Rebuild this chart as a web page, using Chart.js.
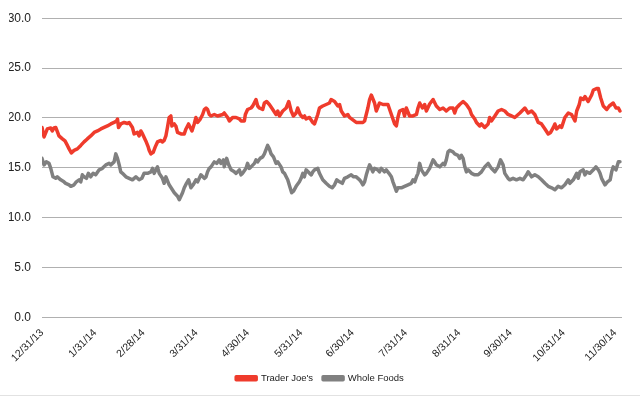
<!DOCTYPE html>
<html>
<head>
<meta charset="utf-8">
<script src="https://cdn.jsdelivr.net/npm/chart.js@4/dist/chart.umd.min.js"></script>
<style>
  html, body { margin: 0; padding: 0; background: #fff; }
  #wrap { position: relative; width: 640px; height: 396px; }
  #rule { position: absolute; left: 0; top: 395px; width: 640px; height: 1px; background: #e2e2e2; }
</style>
</head>
<body>
<div id="wrap">
  <canvas id="c" width="640" height="396"></canvas>
  <div id="rule"></div>
</div>
<script>
// Tick positions (days since 12/31/13) and their labels
const tickDays = [0, 31, 59, 90, 120, 151, 181, 212, 243, 273, 304, 334];
const tickLabels = ["12/31/13", "1/31/14", "2/28/14", "3/31/14", "4/30/14", "5/31/14", "6/30/14", "7/31/14", "8/31/14", "9/30/14", "10/31/14", "11/30/14"];

// Trader Joe's: day offsets and values
const tjDays = [0, 1.2, 3.1, 5.1, 6.0, 7.0, 8.0, 9.9, 11.9, 13.4, 14.8, 15.8, 17.1, 18.7, 20.6, 22.6, 24.5, 26.4, 28.4, 30.4, 32.3, 34.3, 36.2, 38.1, 40.1, 42.0, 43.4, 44.0, 44.6, 45.9, 47.9, 49.8, 50.8,
  52.7, 53.7, 55.6, 56.6, 57.6, 58.6, 60.5, 61.9, 62.5, 63.5, 64.8, 66.0, 67.3, 69.3, 70.2, 71.2, 72.2, 73.1, 74.1, 75.1, 75.7, 77.1, 78.0, 79.0, 81.0, 82.9, 83.9, 85.4, 86.4, 87.4, 88.7, 89.7, 90.7, 92.1, 93.6, 94.6, 95.6, 96.5, 97.5, 98.5, 100.4, 102.3, 105.3, 106.2, 108.2, 109.2, 111.1, 113.1, 115.0,
  116.0, 117.9, 118.5, 119.8, 121.8, 122.8, 124.7, 125.7, 126.7, 128.6, 129.6, 130.9, 132.5, 133.9, 136.4, 137.4, 138.4, 140.3, 142.3, 143.8, 145.2, 146.5, 148.1, 149.0, 150.4, 152.0, 153.0, 153.9, 155.9, 157.8, 158.8, 160.7, 161.7, 163.6, 165.6, 167.5, 168.5, 170.5, 172.4,
  173.4, 174.4, 176.3, 178.2, 179.2, 183.1, 187.0, 188.0, 189.9, 190.9, 191.9, 193.8, 194.8, 196.7, 198.7, 201.6, 203.6, 205.5, 206.5, 207.4, 208.4, 210.3, 211.3, 212.3, 214.2, 216.2, 218.2, 219.1, 220.1, 221.7, 223.0, 224.0,
  225.9, 227.9, 229.8, 231.8, 233.7, 235.6, 237.6, 239.5, 240.5, 241.5, 243.4, 245.4, 247.3, 249.3, 250.3, 252.2, 253.2, 255.1, 256.1, 258.0, 260.0, 260.9, 261.9, 263.9, 265.8, 267.8, 269.7, 271.6, 273.6, 275.5, 278.5, 281.4, 283.3, 285.3, 287.2,
  289.2, 291.1, 293.1, 295.0, 296.4, 298.0, 298.9, 299.9, 301.8, 302.8, 304.7, 306.7, 308.6, 310.6, 311.6, 313.1, 313.9, 315.4, 316.4, 318.3, 320.3, 321.3, 323.2, 324.2, 325.6, 327.1, 329.1, 330.6, 332.9, 334.5, 335.9, 336.8];
const tjValues = [19.05, 18.1, 18.9, 19.0, 18.7, 19.0, 19.05, 18.2, 17.9, 17.7, 17.25, 16.9, 16.5, 16.75, 16.9, 17.25, 17.6, 17.9, 18.2, 18.55, 18.7, 18.9, 19.05, 19.2, 19.4, 19.55, 19.7, 19.9, 19.05, 19.4, 19.55, 19.45, 19.55,
  19.05, 18.4, 18.55, 18.2, 18.7, 18.4, 17.7, 17.1, 16.75, 16.4, 16.55, 17.1, 17.6, 17.75, 17.6, 17.75, 18.2, 19.05, 20.05, 20.2, 19.2, 19.4, 19.2, 18.55, 18.4, 18.4, 18.9, 19.4, 19.05, 18.7, 19.4, 20.05, 19.55, 19.85, 20.35, 20.85, 21.0, 20.85, 20.35, 20.2, 20.35, 20.2, 20.35, 20.5, 20.05, 19.7, 20.05, 20.05, 19.9,
  19.7, 19.7, 20.35, 20.85, 21.0, 21.2, 21.85, 21.2, 21.0, 20.85, 21.5, 21.65, 21.35, 21.0, 20.35, 20.7, 20.2, 20.7, 21.0, 21.65, 20.7, 20.2, 20.5, 21.0, 20.35, 20.05, 20.2, 19.9, 20.05, 19.55, 19.4, 20.35, 21.0, 21.2, 21.35, 21.5, 21.85, 21.65, 21.2,
  21.35, 20.7, 20.2, 20.35, 20.05, 19.55, 19.55, 19.7, 21.0, 21.85, 22.3, 21.5, 20.7, 21.5, 21.35, 21.35, 20.35, 19.4, 19.2, 20.05, 20.7, 20.85, 20.2, 21.0, 20.2, 20.2, 20.35, 21.0, 21.5, 21.0, 21.35, 20.7,
  21.4, 21.85, 21.2, 20.85, 21.0, 20.7, 21.0, 21.0, 20.5, 21.0, 21.35, 21.65, 21.35, 20.85, 20.35, 19.9, 19.55, 19.2, 19.4, 19.05, 19.4, 20.05, 19.7, 20.2, 20.7, 20.85, 20.7, 20.35, 20.2, 20.05, 20.5, 21.0, 20.5, 20.7, 20.35,
  19.55, 19.4, 18.9, 18.4, 18.55, 19.05, 19.4, 18.9, 19.2, 19.05, 20.05, 20.5, 20.35, 19.7, 20.7, 21.35, 22.0, 21.85, 22.15, 21.65, 22.3, 22.8, 22.95, 22.95, 22.0, 21.2, 20.85, 21.2, 21.5, 21.0, 21.0, 20.7];

// Whole Foods: day offsets and values
const wfDays = [0, 0.6, 1.2, 2.5, 4.1, 5.1, 6.4, 8.0, 8.9, 10.9, 12.8, 13.8, 15.8, 16.8, 18.7, 20.0, 21.6, 22.6, 23.5, 24.5, 25.9, 27.0, 28.4, 29.8, 31.3, 33.3, 35.2, 37.2, 39.1, 40.1, 42.0, 43.0, 44.0, 45.0, 45.9, 46.9, 48.9, 50.8,
  52.7, 54.7, 56.6, 58.2, 59.5, 61.5, 63.5, 64.4, 65.4, 66.4, 67.3, 68.3, 70.2, 71.2, 72.2, 74.1, 77.1, 79.0, 80.0, 81.9, 82.9, 84.2, 85.4, 86.8, 88.1, 89.7, 90.7, 92.6, 94.6, 95.6, 96.5, 97.5, 98.5, 100.4, 101.8, 103.3, 104.3, 105.7, 106.2, 107.6, 108.8, 110.2, 112.1, 113.1, 115.0,
  116.0, 116.9, 118.9, 119.8, 120.8, 121.8, 123.8, 124.7, 125.7, 127.1, 128.6, 129.6, 131.5, 132.5, 133.5, 134.9, 136.4, 137.4, 139.3, 140.3, 141.3, 142.3, 143.2, 144.6, 145.5, 146.5, 148.1, 150.0, 151.0, 152.0, 152.9, 153.9, 155.9, 156.9, 157.8, 158.8, 160.7, 161.7, 163.6, 165.6, 167.5, 169.1, 170.5, 171.8, 173.4,
  175.0, 176.3, 178.2, 180.2, 181.6, 183.1, 185.1, 186.0, 187.0, 188.0, 189.0, 189.9, 190.9, 191.9, 192.8, 193.8, 195.7, 196.7, 197.7, 199.6, 200.6, 202.2, 203.6, 204.5, 205.5, 206.5, 207.4, 209.4, 211.3, 213.3, 215.2, 216.2, 217.2, 218.2, 219.1, 220.1, 221.1, 223.0, 224.0, 225.9, 227.9, 228.8, 229.8,
  231.8, 233.7, 234.7, 235.6, 236.6, 237.6, 239.5, 240.5, 242.4, 243.4, 244.4, 245.4, 246.4, 247.3, 248.3, 250.3, 252.2, 254.2, 256.1, 258.0, 260.0, 261.9, 263.9, 265.8, 267.2, 268.7, 269.7, 271.6, 272.6, 274.5, 276.5, 278.5, 280.4, 282.4, 283.3, 285.3, 287.2,
  289.2, 291.1, 293.1, 295.0, 297.0, 298.9, 300.8, 302.8, 304.7, 306.7, 307.6, 309.6, 311.6, 312.5, 313.5, 315.4, 316.4, 317.4, 319.3, 321.3, 322.8, 324.2, 325.2, 326.1, 328.1, 329.5, 331.1, 332.0, 332.9, 334.5, 335.9, 336.8];
const wfValues = [15.95, 15.6, 15.3, 15.6, 15.45, 14.95, 14.1, 13.95, 14.1, 13.8, 13.6, 13.45, 13.3, 13.15, 13.3, 13.6, 13.8, 13.6, 14.3, 14.1, 13.95, 14.45, 14.1, 14.45, 14.3, 14.8, 14.95, 15.3, 15.45, 15.3, 15.6, 16.4, 15.95, 15.3, 14.6, 14.45, 14.1, 13.95,
  13.8, 14.1, 13.8, 13.95, 14.45, 14.45, 14.6, 14.95, 14.45, 14.8, 15.1, 14.45, 13.95, 13.45, 14.1, 13.3, 12.5, 12.15, 11.8, 12.5, 13.0, 13.45, 13.8, 13.0, 13.3, 13.8, 13.6, 14.3, 13.95, 14.1, 14.6, 14.95, 15.1, 15.6, 15.45, 15.8, 15.45, 15.8, 15.1, 15.95, 15.3, 14.8, 14.6, 14.45, 14.8,
  14.3, 14.45, 14.95, 15.45, 14.95, 15.1, 15.45, 15.8, 15.6, 15.95, 16.1, 16.4, 17.25, 16.9, 16.4, 16.1, 15.45, 15.6, 15.1, 14.6, 14.45, 14.1, 13.8, 13.0, 12.5, 12.65, 13.15, 13.6, 13.95, 14.45, 14.1, 14.8, 14.45, 14.3, 14.6, 14.8, 14.95, 14.45, 13.8, 13.45, 13.15, 13.0, 13.3, 13.8, 13.6,
  13.45, 13.95, 14.1, 14.3, 14.1, 14.1, 13.8, 13.6, 13.3, 13.6, 14.3, 14.8, 15.3, 14.95, 14.6, 14.95, 14.8, 14.6, 14.95, 14.6, 14.8, 14.45, 14.1, 13.6, 13.15, 12.65, 13.0, 13.0, 13.15, 13.3, 13.45, 13.8, 13.6, 14.1, 14.45, 15.45, 14.8, 14.3, 14.45, 14.95, 15.8, 15.6, 15.3,
  15.1, 15.45, 15.3, 15.8, 16.6, 16.75, 16.6, 16.4, 16.25, 15.95, 16.25, 15.95, 15.1, 14.6, 14.8, 14.45, 14.3, 14.3, 14.6, 15.1, 15.45, 14.95, 14.6, 15.1, 15.8, 15.3, 14.45, 13.95, 13.8, 13.95, 13.8, 13.95, 13.8, 14.3, 14.6, 14.1, 14.3,
  14.1, 13.8, 13.45, 13.15, 13.0, 12.8, 13.15, 13.0, 13.3, 13.8, 13.45, 13.8, 14.45, 13.95, 14.6, 14.8, 14.3, 14.6, 14.45, 14.8, 15.1, 14.8, 14.45, 13.95, 13.3, 13.6, 13.8, 14.6, 15.1, 14.8, 15.6, 15.6];

const seriesNames = ["Trader Joe's", "Whole Foods"];

const toPoints = (xs, ys) => xs.map((x, i) => ({ x: x, y: ys[i] }));

new Chart(document.getElementById('c'), {
  type: 'line',
  data: {
    datasets: [
      { label: seriesNames[0], data: toPoints(tjDays, tjValues), borderColor: '#ef3b2c', backgroundColor: '#ef3b2c',
        borderWidth: 3.5, pointRadius: 0, tension: 0, borderJoinStyle: 'round', borderCapStyle: 'round' },
      { label: seriesNames[1], data: toPoints(wfDays, wfValues), borderColor: '#808080', backgroundColor: '#808080',
        borderWidth: 3.5, pointRadius: 0, tension: 0, borderJoinStyle: 'round', borderCapStyle: 'round' }
    ]
  },
  options: {
    responsive: false,
    animation: false,
    devicePixelRatio: 1,
    layout: { padding: { top: 12, right: 9, bottom: 3, left: 9 } },
    scales: {
      x: {
        type: 'linear', min: 0, max: 338,
        grid: { display: false },
        border: { display: false },
        afterBuildTicks: (s) => { s.ticks = tickDays.map(v => ({ value: v })); },
        afterFit: (s) => { s.height = 46; },
        ticks: {
          autoSkip: false, minRotation: 45, maxRotation: 45, padding: 1,
          color: '#222', font: { family: 'Liberation Sans', size: 10.5 },
          callback: (v, i) => tickLabels[i]
        }
      },
      y: {
        min: 0, max: 30,
        grid: { color: '#b0b0b0', lineWidth: 1, drawTicks: false },
        border: { display: false },
        afterFit: (s) => { s.width = 33; },
        ticks: {
          stepSize: 5, padding: 11, color: '#222',
          font: { family: 'Liberation Sans', size: 12 },
          callback: (v) => Number(v).toFixed(1)
        }
      },
      yRight: {
        position: 'right', min: 0, max: 30,
        grid: { display: false, drawTicks: false },
        border: { display: false },
        ticks: { display: false },
        afterFit: (s) => { s.width = 9; }
      }
    },
    plugins: {
      tooltip: { enabled: false },
      legend: {
        position: 'bottom',
        labels: { boxWidth: 20, boxHeight: 3, padding: 10, color: '#222', font: { family: 'Liberation Sans', size: 9.5 } }
      }
    }
  }
});
</script>
</body>
</html>
